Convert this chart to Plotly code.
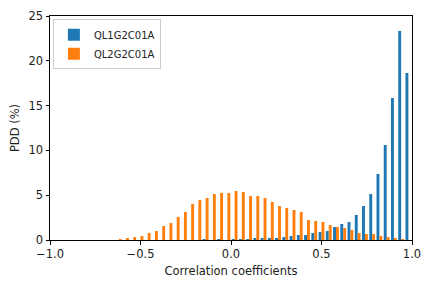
import plotly.graph_objects as go

# Histogram bins: 50 bins of width 0.04 from -1 to 1 (left edges)
bin_left = [round(-1 + 0.04 * i, 2) for i in range(50)]

# Percentage of pairs per bin
ql1 = {-0.16: 0.11, -0.08: 0.11, 0.0: 0.11, 0.04: 0.11, 0.08: 0.11,
       0.12: 0.22, 0.16: 0.22, 0.20: 0.22, 0.24: 0.22, 0.28: 0.33,
       0.32: 0.45, 0.36: 0.56, 0.40: 0.56, 0.44: 0.78, 0.48: 0.89,
       0.52: 1.0, 0.56: 1.45, 0.60: 1.79, 0.64: 2.0, 0.68: 2.79,
       0.72: 3.79, 0.76: 5.13, 0.80: 7.37, 0.84: 10.6, 0.88: 15.85,
       0.92: 23.33, 0.96: 18.64}
ql2 = {-0.64: 0.11, -0.60: 0.22, -0.56: 0.33, -0.52: 0.45, -0.48: 0.78,
       -0.44: 1.0, -0.40: 1.56, -0.36: 1.9, -0.32: 2.57, -0.28: 3.13,
       -0.24: 4.02, -0.20: 4.46, -0.16: 4.69, -0.12: 5.13, -0.08: 5.25,
       -0.04: 5.25, 0.0: 5.47, 0.04: 5.36, 0.08: 4.91, 0.12: 4.91,
       0.16: 4.69, 0.20: 4.24, 0.24: 3.79, 0.28: 3.57, 0.32: 3.35,
       0.36: 3.13, 0.40: 2.23, 0.44: 2.12, 0.48: 2.01, 0.52: 1.67,
       0.56: 1.45, 0.60: 1.34, 0.64: 1.12, 0.68: 0.78, 0.72: 0.67,
       0.76: 0.67, 0.80: 0.45, 0.84: 0.33, 0.88: 0.22, 0.92: 0.11}

ql1_values = [ql1.get(b, 0.0) for b in bin_left]
ql2_values = [ql2.get(b, 0.0) for b in bin_left]
bin_centers = [b + 0.02 for b in bin_left]

x_ticks = [-1.0, -0.5, 0.0, 0.5, 1.0]
x_tick_labels = ["\u22121.0", "\u22120.5", "0.0", "0.5", "1.0"]
y_ticks = [0, 5, 10, 15, 20, 25]

fig = go.Figure()
fig.add_trace(go.Bar(x=bin_centers, y=ql1_values, name="QL1G2C01A",
                     marker=dict(color="#1f77b4", line=dict(width=0))))
fig.add_trace(go.Bar(x=bin_centers, y=ql2_values, name="QL2G2C01A",
                     marker=dict(color="#ff7f0e", line=dict(width=0))))

font_family = "DejaVu Sans"
# the page body adds an 8px margin around the figure
fig.update_layout(
    width=416, height=272,
    margin=dict(l=42, r=12, t=8, b=40),
    paper_bgcolor="white", plot_bgcolor="white",
    barmode="group", bargap=0.2, bargroupgap=0,
    font=dict(family=font_family, size=11.5, color="#222222"),
    showlegend=True,
    legend=dict(x=0.008, y=0.985, xanchor="left", yanchor="top",
                bgcolor="rgba(255,255,255,0.8)", bordercolor="#cccccc",
                borderwidth=1, font=dict(size=10), tracegroupgap=0,
                itemwidth=30),
)
fig.update_xaxes(range=[-1, 1], tickmode="array", tickvals=x_ticks,
                 ticktext=x_tick_labels, ticks="outside", ticklen=3.5,
                 tickwidth=0.8, tickcolor="black", showgrid=False,
                 zeroline=False, showline=True, linecolor="black",
                 linewidth=1, mirror=True, automargin=False,
                 title=dict(text="Correlation coefficients", standoff=6,
                            font=dict(size=11.5)))
fig.update_yaxes(range=[0, 25], tickmode="array", tickvals=y_ticks,
                 ticks="outside", ticklen=3.5, tickwidth=0.8,
                 tickcolor="black", showgrid=False, zeroline=False,
                 showline=True, linecolor="black", linewidth=1, mirror=True,
                 automargin=False,
                 title=dict(text="PDD (%)", standoff=8, font=dict(size=11.5)))

fig.write_html("out.html")
